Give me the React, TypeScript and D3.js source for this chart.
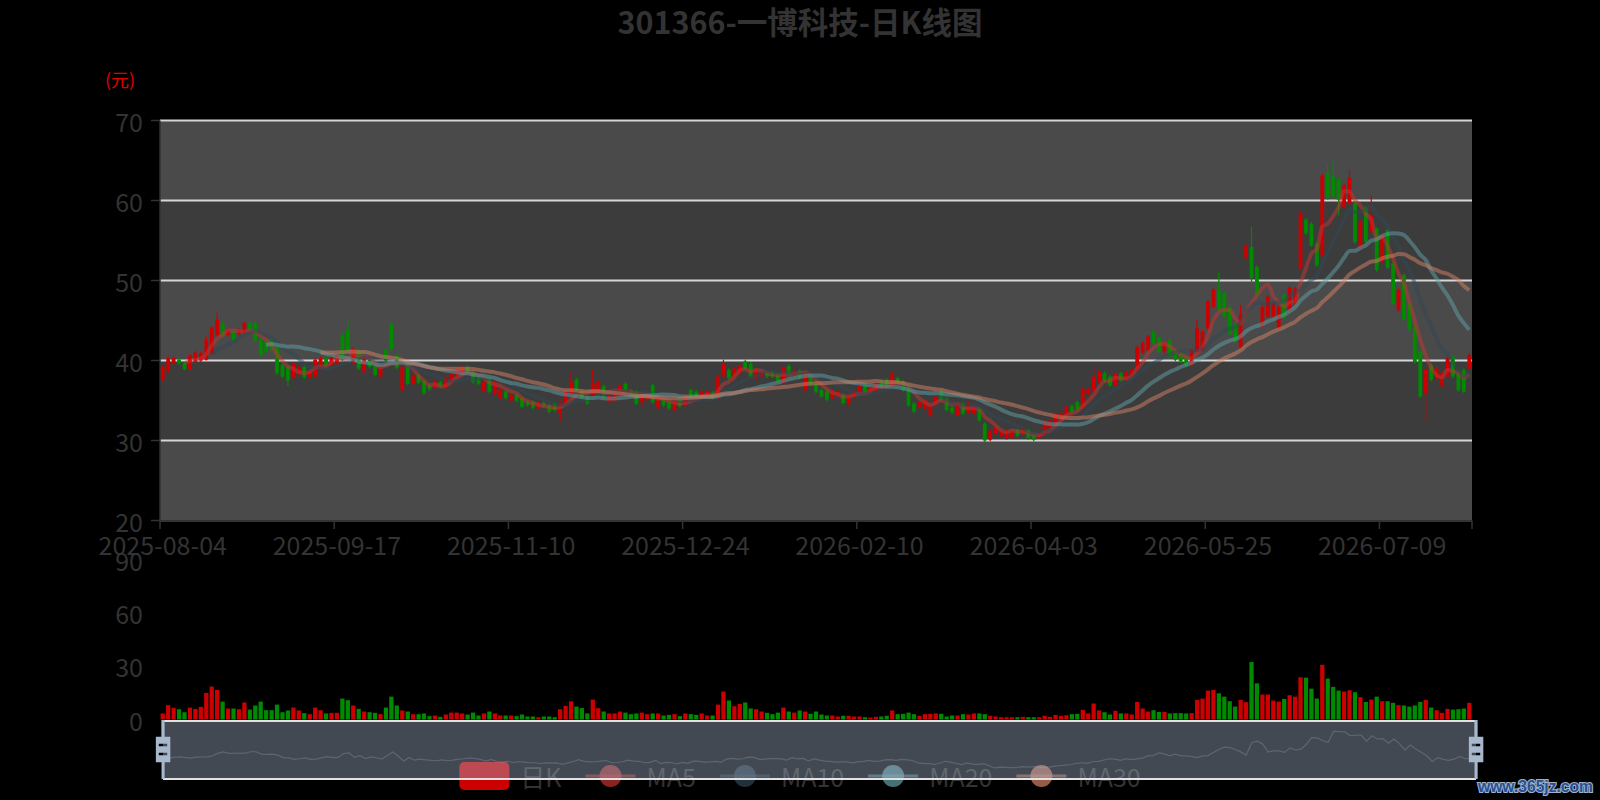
import React, { useMemo } from 'react';
import * as d3 from 'd3';

const TITLE = '301366-一博科技-日K线图';
const UNIT_LABEL = '(元)';
const START_DATE = '2025-08-04';
// exchange closures on weekdays inside the period
const HOLIDAYS = [
  '2025-10-01', '2025-10-02', '2025-10-03', '2025-10-06', '2025-10-07', '2025-10-08',
  '2026-01-01', '2026-01-02',
  '2026-02-16', '2026-02-17', '2026-02-18', '2026-02-19', '2026-02-20', '2026-02-23',
  '2026-04-06', '2026-05-01', '2026-05-04', '2026-05-05', '2026-06-19',
];

const OPEN = [
  37.6, 38.7, 39.6, 40.1, 39.7, 38.9, 39.8, 40.0, 40.1, 40.9, 43.2, 44.6, 43.2, 43.6, 43.3, 43.4, 44.7, 44.7, 42.6, 42.4,
  42.6, 41.7, 39.4, 39.2, 37.8, 38.4, 39.2, 37.9, 38.0, 39.2, 40.3, 39.4, 39.6, 43.1, 43.8, 39.6, 41.2, 38.6, 40.1, 39.3,
  38.0, 41.3, 44.6, 40.6, 36.4, 39.5, 37.1, 38.1, 37.4, 36.9, 36.6, 37.3, 36.6, 37.2, 38.1, 38.4, 39.2, 38.6, 37.8, 36.2,
  37.8, 35.9, 35.3, 36.1, 35.0, 35.7, 35.3, 34.8, 34.8, 34.1, 34.7, 34.4, 34.6, 33.4, 34.7, 35.9, 37.6, 36.1, 35.5, 35.7,
  36.2, 36.8, 34.8, 35.0, 35.7, 37.1, 36.2, 36.1, 34.8, 35.1, 36.9, 34.1, 35.1, 34.8, 33.9, 35.1, 34.3, 36.3, 36.1, 35.4,
  35.5, 36.0, 35.3, 38.0, 38.8, 38.0, 38.4, 39.9, 39.6, 37.8, 38.0, 38.5, 38.5, 38.3, 37.2, 39.3, 38.2, 38.7, 36.4, 38.2,
  37.1, 36.3, 36.1, 35.3, 35.6, 35.7, 34.6, 35.5, 36.0, 36.9, 36.1, 36.2, 37.4, 37.6, 36.9, 37.8, 37.4, 36.8, 34.6, 34.2,
  34.0, 33.2, 34.6, 36.1, 35.3, 34.1, 33.1, 34.6, 33.5, 33.4, 34.0, 32.1, 30.1, 30.9, 30.6, 30.3, 30.4, 31.3, 30.9, 31.3,
  30.7, 30.4, 30.9, 31.7, 32.1, 32.6, 33.2, 34.3, 34.8, 34.2, 35.9, 36.1, 37.3, 38.4, 38.0, 36.9, 38.4, 37.6, 38.2, 38.9,
  41.0, 41.3, 43.6, 42.8, 41.1, 42.5, 41.3, 40.9, 40.5, 39.4, 41.0, 41.3, 44.0, 46.7, 48.8, 48.4, 46.7, 44.6, 41.7, 52.9,
  54.2, 51.7, 44.4, 45.5, 45.5, 44.1, 48.2, 46.3, 47.1, 51.5, 57.6, 57.1, 54.6, 53.2, 63.4, 63.0, 62.6, 59.2, 59.6, 59.7,
  54.2, 59.1, 56.1, 56.5, 52.4, 56.3, 52.1, 46.3, 50.7, 47.1, 44.2, 41.1, 35.9, 39.4, 37.8, 36.9, 38.0, 40.5, 38.4, 38.8,
  39.0,
];
const CLOSE = [
  39.1, 40.3, 40.3, 39.7, 38.9, 40.6, 41.0, 40.9, 42.6, 44.1, 45.1, 43.2, 43.8, 42.5, 43.8, 44.7, 43.9, 42.5, 40.7, 41.1,
  41.3, 38.4, 38.0, 37.5, 39.6, 39.2, 37.9, 38.6, 40.1, 40.3, 39.4, 40.4, 40.6, 40.1, 41.3, 41.5, 39.0, 40.3, 39.2, 38.2,
  39.1, 40.0, 41.4, 39.1, 39.1, 37.1, 38.1, 37.2, 35.9, 36.4, 37.4, 36.8, 37.8, 38.3, 38.9, 39.1, 38.5, 37.3, 37.1, 37.3,
  36.1, 37.3, 36.3, 35.3, 35.7, 35.0, 34.2, 34.4, 34.1, 34.6, 34.3, 33.6, 33.8, 34.6, 36.1, 37.3, 36.4, 35.3, 34.6, 37.1,
  37.3, 35.3, 35.7, 35.9, 36.8, 36.3, 35.7, 34.6, 35.7, 35.9, 34.8, 35.3, 34.4, 34.0, 35.1, 34.3, 35.7, 35.3, 35.5, 36.1,
  36.1, 35.3, 38.0, 39.6, 37.8, 39.0, 39.3, 39.0, 38.0, 38.8, 38.5, 38.0, 38.0, 37.4, 39.2, 38.4, 38.7, 37.9, 38.4, 37.1,
  36.1, 35.5, 35.1, 36.1, 36.1, 34.7, 35.5, 36.1, 36.8, 36.1, 36.7, 37.1, 36.7, 36.9, 38.4, 37.2, 36.3, 34.4, 33.6, 34.8,
  35.0, 34.4, 35.7, 35.1, 33.8, 33.5, 34.7, 33.4, 34.7, 34.1, 32.5, 30.0, 31.1, 31.7, 31.2, 31.1, 31.1, 30.6, 31.5, 30.3,
  30.1, 30.9, 32.3, 32.5, 33.4, 33.3, 34.2, 33.6, 33.9, 36.5, 36.4, 38.0, 38.6, 37.5, 36.9, 38.4, 37.5, 38.5, 38.9, 41.7,
  42.2, 43.0, 42.1, 41.1, 42.1, 40.5, 40.1, 39.9, 39.4, 41.3, 44.0, 43.6, 47.4, 48.9, 46.3, 45.5, 43.3, 42.3, 45.7, 54.3,
  50.3, 48.2, 46.7, 48.0, 47.1, 46.7, 45.3, 49.1, 49.0, 58.4, 55.9, 54.4, 51.9, 63.1, 60.3, 60.5, 60.1, 61.9, 62.8, 54.8,
  57.3, 54.8, 58.2, 51.3, 55.6, 51.6, 47.1, 48.8, 45.1, 43.8, 39.8, 35.5, 38.9, 37.6, 39.0, 38.4, 40.3, 38.0, 36.3, 36.1,
  40.7,
];
const HIGH = [
  39.3, 40.5, 40.5, 40.4, 39.8, 40.8, 41.2, 41.1, 43.0, 44.3, 46.0, 44.9, 44.0, 43.8, 44.0, 44.8, 44.9, 44.9, 42.8, 42.6,
  42.7, 41.9, 39.6, 39.3, 39.8, 39.4, 39.4, 38.8, 40.3, 40.5, 40.5, 40.6, 40.8, 43.3, 45.1, 41.7, 41.4, 40.5, 40.3, 39.5,
  39.3, 41.5, 44.7, 40.8, 39.3, 39.7, 38.3, 38.3, 37.6, 37.1, 37.6, 37.5, 38.0, 38.5, 39.1, 39.3, 39.4, 38.8, 38.0, 37.5,
  38.0, 37.5, 36.5, 36.3, 35.9, 35.9, 35.5, 35.0, 35.0, 34.8, 34.9, 34.6, 34.8, 35.0, 36.3, 38.5, 37.8, 36.3, 35.7, 38.8,
  37.5, 37.0, 35.9, 36.1, 37.0, 37.3, 36.4, 36.3, 35.9, 36.1, 37.1, 35.5, 35.3, 35.0, 35.3, 35.3, 35.9, 36.5, 36.3, 36.3,
  36.3, 36.2, 38.2, 40.1, 39.0, 39.2, 39.5, 40.1, 39.8, 39.0, 38.7, 38.7, 38.7, 38.5, 39.4, 39.5, 38.9, 38.9, 38.6, 38.4,
  37.3, 36.5, 36.3, 36.3, 36.3, 35.9, 35.7, 36.3, 37.0, 37.1, 36.9, 37.3, 37.6, 37.8, 38.6, 38.0, 37.6, 37.0, 34.8, 35.0,
  35.2, 34.6, 35.9, 36.3, 35.5, 34.3, 34.9, 34.8, 34.9, 34.3, 34.2, 32.3, 31.3, 31.9, 31.4, 31.3, 31.3, 31.5, 31.7, 31.5,
  30.9, 31.1, 32.5, 32.7, 33.6, 33.5, 34.4, 34.5, 35.0, 36.6, 36.6, 39.4, 38.8, 38.6, 38.2, 38.6, 38.6, 38.7, 39.1, 41.9,
  42.4, 43.2, 43.8, 43.0, 42.3, 42.7, 41.5, 41.1, 40.7, 41.5, 45.1, 43.8, 47.6, 49.1, 51.0, 48.6, 46.9, 44.8, 46.9, 54.5,
  56.7, 51.9, 46.9, 48.2, 47.3, 46.9, 48.4, 49.3, 49.2, 58.6, 57.8, 57.3, 54.8, 63.3, 64.4, 65.0, 62.8, 62.1, 63.8, 59.9,
  57.5, 59.3, 60.6, 56.7, 55.8, 56.5, 52.3, 49.0, 50.9, 47.3, 44.4, 41.3, 39.1, 39.6, 39.2, 38.6, 40.5, 40.7, 38.6, 39.0,
  40.9,
];
const LOW = [
  37.4, 38.5, 39.4, 39.4, 38.8, 38.8, 39.7, 39.8, 40.0, 40.8, 43.0, 43.0, 43.0, 42.4, 43.1, 43.3, 43.8, 42.3, 40.5, 40.9,
  41.1, 38.2, 37.8, 36.8, 37.6, 38.2, 37.7, 37.7, 37.9, 39.0, 39.2, 39.2, 39.4, 39.9, 41.1, 39.4, 38.8, 38.4, 39.0, 38.0,
  37.8, 39.8, 41.2, 38.9, 36.2, 36.9, 36.9, 37.0, 35.7, 36.2, 36.4, 36.6, 36.4, 37.0, 37.9, 38.2, 38.3, 37.1, 36.9, 36.0,
  35.9, 35.7, 35.1, 35.1, 34.8, 34.8, 34.0, 34.2, 33.9, 33.9, 34.1, 33.4, 33.6, 32.4, 34.5, 35.7, 36.2, 35.1, 34.4, 35.5,
  36.0, 35.1, 34.6, 34.8, 35.5, 36.1, 35.5, 34.4, 34.2, 34.9, 34.6, 33.9, 34.2, 33.8, 33.7, 34.1, 34.1, 35.1, 35.3, 35.2,
  35.3, 35.1, 35.1, 37.8, 37.6, 37.8, 38.2, 38.8, 37.8, 37.6, 37.8, 37.8, 37.8, 37.2, 37.0, 38.2, 38.0, 37.7, 36.2, 36.9,
  35.9, 35.3, 34.9, 35.1, 35.4, 34.5, 34.4, 35.3, 35.8, 35.9, 35.9, 36.0, 36.5, 36.7, 36.7, 37.0, 36.1, 34.2, 33.4, 34.0,
  33.8, 33.0, 34.4, 34.9, 33.6, 33.3, 32.9, 33.2, 33.3, 33.2, 32.3, 29.8, 29.9, 30.7, 30.4, 30.1, 30.2, 30.4, 30.7, 30.1,
  29.9, 30.2, 30.7, 31.5, 31.9, 32.4, 33.0, 33.4, 33.7, 34.0, 35.7, 35.9, 37.1, 37.3, 36.7, 36.7, 37.3, 37.4, 38.0, 38.7,
  40.8, 41.1, 41.9, 40.9, 40.9, 40.3, 39.9, 39.7, 39.2, 39.2, 40.9, 41.1, 43.8, 46.5, 46.1, 45.3, 43.1, 42.1, 41.5, 52.7,
  49.4, 48.0, 44.2, 45.3, 45.3, 43.9, 45.1, 46.1, 46.9, 51.3, 55.7, 54.2, 51.7, 53.0, 60.1, 60.3, 58.1, 59.0, 59.4, 54.6,
  54.0, 54.6, 55.9, 51.1, 52.2, 51.4, 46.9, 46.1, 44.9, 43.6, 39.6, 35.3, 32.4, 37.4, 37.6, 36.7, 37.8, 37.8, 36.1, 35.9,
  38.8,
];
const VOLUME = [
  3.4, 8.1, 6.6, 5.8, 4.1, 6.75, 6.0, 7.1, 15.0, 18.6, 16.7, 10.1, 6.2, 6.2, 5.8, 9.6, 5.6, 7.9, 10.1, 5.25,
  5.25, 8.4, 4.1, 5.1, 6.75, 5.1, 3.6, 3.0, 6.75, 5.25, 3.4, 3.75, 3.75, 11.8, 10.9, 7.9, 6.0, 4.5, 4.1, 3.75,
  3.0, 6.75, 12.9, 7.9, 5.1, 4.5, 3.0, 3.0, 3.4, 1.9, 2.25, 1.5, 2.8, 3.9, 3.9, 3.4, 2.8, 3.9, 2.25, 3.4,
  4.5, 3.4, 2.25, 2.25, 2.25, 1.9, 2.8, 1.7, 1.7, 1.3, 1.7, 1.7, 1.3, 5.8, 7.7, 10.3, 7.3, 6.4, 3.4, 11.25,
  6.4, 4.5, 3.4, 3.4, 4.5, 3.9, 3.0, 3.4, 3.9, 3.0, 3.4, 3.4, 2.25, 2.6, 3.0, 1.9, 3.4, 3.0, 2.6, 3.4,
  2.25, 2.25, 8.4, 15.75, 10.7, 7.5, 8.8, 9.6, 6.2, 5.8, 4.5, 3.75, 3.0, 3.9, 6.75, 4.5, 3.9, 5.1, 4.5, 3.2,
  4.5, 2.8, 2.25, 2.25, 1.7, 2.1, 2.1, 1.7, 1.7, 1.3, 1.1, 1.5, 1.7, 2.1, 5.1, 3.0, 3.2, 3.9, 3.0, 2.1,
  3.0, 3.2, 3.4, 3.2, 1.7, 2.25, 2.25, 3.0, 2.8, 3.4, 3.4, 3.0, 2.1, 1.7, 1.3, 1.3, 1.3, 1.3, 1.5, 1.3,
  1.3, 1.3, 2.1, 1.5, 2.6, 2.1, 2.4, 3.0, 3.2, 5.4, 3.4, 9.0, 5.1, 4.1, 2.8, 4.9, 3.4, 3.4, 2.8, 9.9,
  6.2, 4.5, 5.25, 4.3, 4.3, 3.4, 3.6, 3.6, 3.4, 3.6, 11.1, 11.8, 16.3, 16.7, 14.8, 12.9, 10.3, 7.3, 11.1, 9.75,
  32.4, 20.4, 14.1, 14.1, 10.7, 10.1, 11.6, 13.7, 12.9, 23.8, 23.6, 17.4, 11.8, 30.9, 23.1, 18.4, 16.3, 15.75, 16.5, 15.4,
  12.6, 9.9, 11.25, 12.9, 10.3, 10.3, 9.4, 8.1, 7.9, 7.3, 7.9, 9.9, 11.1, 6.75, 5.25, 3.75, 6.0, 5.6, 5.8, 6.2,
  9.4,
];

const PRICE_TICKS = [20, 30, 40, 50, 60, 70];
const VOLUME_TICKS = [0, 30, 60, 90];
const LABEL_INTERVAL = 32;
const MA_PERIODS = [5, 10, 20, 30];
const MA_NAMES = ['MA5', 'MA10', 'MA20', 'MA30'];
const MA_COLORS = ['#c23531', '#2f4554', '#61a0a8', '#d48265'];
const CANDLE_NAME = '日K';
const WATERMARK = 'www.365jz.com';

const UP = '#cc0000';
const DOWN = '#008a00';
const FONT = "'Noto Sans CJK SC', 'Noto Sans', sans-serif";
const AXIS_TEXT = '#333333';

function tradingDays(start: string, n: number, holidays: string[]): string[] {
  const skip = new Set(holidays);
  const out: string[] = [];
  const d = new Date(start + 'T00:00:00Z');
  while (out.length < n) {
    const wd = d.getUTCDay();
    const s = d.toISOString().slice(0, 10);
    if (wd !== 0 && wd !== 6 && !skip.has(s)) out.push(s);
    d.setUTCDate(d.getUTCDate() + 1);
  }
  return out;
}

function movingAverage(values: number[], period: number): (number | null)[] {
  return values.map((_, i) => {
    if (i < period - 1) return null;
    let s = 0;
    for (let k = i - period + 1; k <= i; k++) s += values[k];
    return s / period;
  });
}

function measure(text: string, font: string): number {
  const c = document.createElement('canvas').getContext('2d');
  if (!c) return text.length * 14;
  c.font = font;
  return c.measureText(text).width;
}

export default function App() {
  const W = 1600;
  const H = 800;
  const gridL = 160;
  const gridR = 1472;
  const gridT = 120.5;
  const gridB = 520.5;
  const volT = 560;
  const volB = 719.5;
  const N = CLOSE.length;

  const dates = useMemo(() => tradingDays(START_DATE, N, HOLIDAYS), [N]);

  const x = d3.scaleBand<string>().domain(dates).range([gridL, gridR]).paddingInner(0).paddingOuter(0);
  const bw = x.bandwidth();
  const cx = (i: number) => (x(dates[i]) as number) + bw / 2;
  const y = d3.scaleLinear().domain([PRICE_TICKS[0], PRICE_TICKS[PRICE_TICKS.length - 1]]).range([gridB, gridT]);
  const yv = d3.scaleLinear().domain([VOLUME_TICKS[0], VOLUME_TICKS[VOLUME_TICKS.length - 1]]).range([volB, volT]);

  const mas = MA_PERIODS.map((p) => movingAverage(CLOSE, p));
  const maLine = d3
    .line<number | null>()
    .defined((v) => v != null)
    .x((_, i) => cx(i))
    .y((v) => y(v as number))
    .curve(d3.curveMonotoneX);

  const labelIdx = d3.range(0, N, LABEL_INTERVAL);

  // slider (dataZoom)
  const sx0 = 163;
  const sx1 = 1476;
  const sy0 = 720;
  const sy1 = 779;
  const oExt = d3.extent(OPEN) as [number, number];
  const pad = (oExt[1] - oExt[0]) * 0.3;
  const shX = d3.scaleLinear().domain([0, N - 1]).range([sx0, sx1]);
  const shY = d3.scaleLinear().domain([oExt[0] - pad, oExt[1] + pad]).range([sy1, sy0]);
  const shadow = d3
    .line<number>()
    .x((_, i) => shX(i))
    .y((v) => shY(v))(OPEN);
  const handlePath =
    'M8.2,13.6V3.9H6.3v9.7H3.1v14.9h3.3v9.7h1.8v-9.7h3.3V13.6H8.2z M9.7,24.4H4.8v-1.4h4.9V24.4z M9.7,19.1H4.8v-1.4h4.9V19.1z';
  const hs = (sy1 - sy0) / (38.2 - 3.9);

  // legend
  const legendFont = `25px ${FONT}`;
  const legendItems = [CANDLE_NAME, ...MA_NAMES];
  const iconW = 50;
  const iconH = 28;
  const textGap = 11;
  const itemGap = 24;
  const widths = legendItems.map((t) => iconW + textGap + measure(t, legendFont));
  const total = d3.sum(widths) + itemGap * (legendItems.length - 1);
  const legendY = 776;
  let acc = W / 2 - total / 2;
  const legendPos = widths.map((w) => {
    const p = acc;
    acc += w + itemGap;
    return p;
  });

  return (
    <svg
      width={W}
      height={H}
      style={{ position: 'absolute', left: 0, top: 0, background: '#000', fontFamily: FONT }}
    >
      <rect x={0} y={0} width={W} height={H} fill="#000" />
      <text x={W / 2} y={34} textAnchor="middle" fontSize={30.5} fontWeight="bold" fill="#333">
        {TITLE}
      </text>

      {/* split areas */}
      {PRICE_TICKS.slice(0, -1).map((t, k) => (
        <rect
          key={'sa' + t}
          x={gridL}
          y={y(PRICE_TICKS[k + 1])}
          width={gridR - gridL}
          height={y(t) - y(PRICE_TICKS[k + 1])}
          fill={k % 2 === 0 ? '#4a4a4a' : '#3c3c3c'}
        />
      ))}
      {PRICE_TICKS.slice(1).map((t) => (
        <line key={'sl' + t} x1={gridL} x2={gridR} y1={y(t)} y2={y(t)} stroke="#d6d6d6" strokeWidth={2} />
      ))}

      {/* y axis */}
      <line x1={gridL} x2={gridL} y1={gridT} y2={gridB} stroke="#333" strokeWidth={1.5} />
      {PRICE_TICKS.map((t) => (
        <g key={'yt' + t}>
          <line x1={gridL - 9} x2={gridL} y1={y(t)} y2={y(t)} stroke="#333" strokeWidth={1.5} />
          <text x={gridL - 17} y={y(t)} textAnchor="end" dominantBaseline="central" fontSize={25} fill={AXIS_TEXT}>
            {t}
          </text>
        </g>
      ))}
      <text x={120} y={79} textAnchor="middle" dominantBaseline="central" fontSize={18} fill="#e00000">
        {UNIT_LABEL}
      </text>

      {/* x axis */}
      <line x1={gridL} x2={gridR} y1={gridB + 0.5} y2={gridB + 0.5} stroke="#333" strokeWidth={2} />
      {[...labelIdx.map((i) => x(dates[i]) as number), gridR].map((px, k) => (
        <line key={'xt' + k} x1={px} x2={px} y1={gridB} y2={gridB + 8.5} stroke="#333" strokeWidth={1.5} />
      ))}
      {labelIdx.map((i) => (
        <text key={'xl' + i} x={cx(i)} y={555} textAnchor="middle" fontSize={25} fill={AXIS_TEXT}>
          {dates[i]}
        </text>
      ))}

      {/* candles */}
      {CLOSE.map((c, i) => {
        const o = OPEN[i];
        const up = c >= o;
        const col = up ? UP : DOWN;
        const top = y(Math.max(o, c));
        const bot = y(Math.min(o, c));
        const w = bw * 0.7;
        return (
          <g key={'k' + i}>
            <line x1={cx(i)} x2={cx(i)} y1={y(HIGH[i])} y2={y(LOW[i])} stroke={col} strokeWidth={1.2} />
            <rect x={cx(i) - w / 2} y={top} width={w} height={Math.max(1, bot - top)} fill={col} />
          </g>
        );
      })}

      {/* moving averages */}
      {mas.map((m, k) => (
        <path
          key={'ma' + k}
          d={maLine(m) || ''}
          fill="none"
          stroke={MA_COLORS[k]}
          strokeWidth={4}
          strokeOpacity={0.5}
          strokeLinejoin="round"
        />
      ))}

      {/* volume */}
      {VOLUME.map((v, i) => {
        const up = CLOSE[i] >= OPEN[i];
        const w = bw * 0.78;
        return (
          <rect
            key={'v' + i}
            x={cx(i) - w / 2}
            y={yv(v)}
            width={w}
            height={yv(0) - yv(v)}
            fill={up ? UP : DOWN}
          />
        );
      })}
      {VOLUME_TICKS.map((t) => (
        <text
          key={'vt' + t}
          x={gridL - 17}
          y={yv(t)}
          textAnchor="end"
          dominantBaseline="central"
          fontSize={25}
          fill={AXIS_TEXT}
        >
          {t}
        </text>
      ))}

      {/* legend (drawn beneath the slider) */}
      {legendItems.map((name, k) => {
        const px = legendPos[k];
        const isCandle = k === 0;
        const col = isCandle ? UP : MA_COLORS[k - 1];
        return (
          <g key={'lg' + k}>
            {isCandle ? (
              <rect x={px} y={legendY - iconH / 2} width={iconW} height={iconH} rx={5} fill={col} />
            ) : (
              <g>
                <line x1={px} x2={px + iconW} y1={legendY} y2={legendY} stroke={col} strokeWidth={3} strokeOpacity={0.55} />
                <circle cx={px + iconW / 2} cy={legendY} r={11} fill={col} fillOpacity={0.7} />
              </g>
            )}
            <text x={px + iconW + textGap} y={legendY} dominantBaseline="central" fontSize={25} fill={AXIS_TEXT}>
              {name}
            </text>
          </g>
        );
      })}

      {/* slider */}
      <g>
        <path d={shadow || ''} fill="none" stroke="rgba(150,160,175,0.3)" strokeWidth={1.2} />
        <rect x={sx0} y={sy0} width={sx1 - sx0} height={sy1 - sy0} fill="rgba(167,183,204,0.4)" />
        <line x1={sx0} x2={sx1} y1={sy0 + 1} y2={sy0 + 1} stroke="#e2e2e2" strokeWidth={2} />
        <line x1={sx0} x2={sx1} y1={sy1} y2={sy1} stroke="#e2e2e2" strokeWidth={2} />
        {[sx0, sx1].map((hx, k) => (
          <path
            key={'h' + k}
            d={handlePath}
            fill="#a7b7cc"
            fillRule="evenodd"
            transform={`translate(${hx - 7.25 * hs},${sy0 - 3.9 * hs}) scale(${hs})`}
          />
        ))}
      </g>

      <text
        x={1478}
        y={792}
        fontSize={16}
        fontWeight="bold"
        fontFamily="'Liberation Sans', sans-serif"
        textLength={115}
        lengthAdjust="spacingAndGlyphs"
        fill="#2a4f8f"
        stroke="#9fb3cf"
        strokeWidth={2.2}
        style={{ paintOrder: 'stroke' }}
      >
        {WATERMARK}
      </text>
    </svg>
  );
}
